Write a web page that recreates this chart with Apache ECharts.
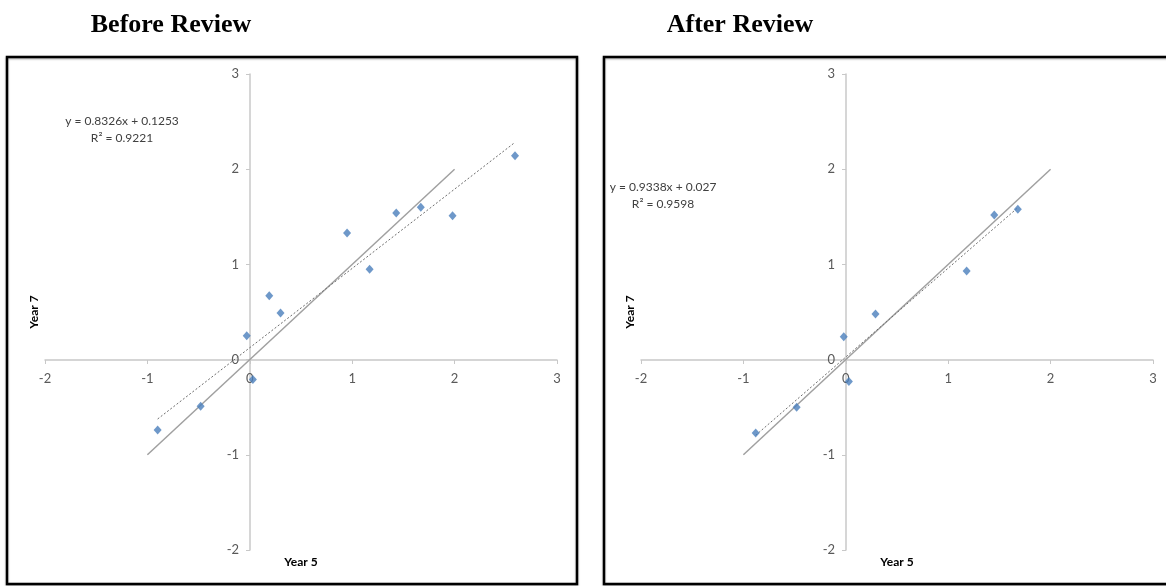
<!DOCTYPE html>
<html>
<head>
<meta charset="utf-8">
<script src="https://cdn.jsdelivr.net/npm/echarts@6/dist/echarts.min.js"></script>
<style>
html,body{margin:0;padding:0;background:#fff;}
#chart{width:1166px;height:586px;}
</style>
</head>
<body>
<div id="chart"></div>
<script>
// ---- data ----
const panelTitles = ["Before Review", "After Review"];
const xAxisName = "Year 5";
const yAxisName = "Year 7";
const axisMin = -2, axisMax = 3, axisStep = 1;

const beforePoints = [
  [-0.90, -0.74], [-0.48, -0.49], [-0.03, 0.25], [0.03, -0.21],
  [0.19, 0.67], [0.30, 0.49], [0.95, 1.33], [1.17, 0.95],
  [1.43, 1.54], [1.67, 1.60], [1.98, 1.51], [2.59, 2.14]
];
const afterPoints = [
  [-0.88, -0.77], [-0.48, -0.50], [-0.02, 0.24], [0.03, -0.23],
  [0.29, 0.48], [1.18, 0.93], [1.45, 1.52], [1.68, 1.58]
];
const identityLine = [[-1, -1], [2, 2]];
const beforeTrend = [[-0.90, -0.624], [2.59, 2.282]];
const afterTrend = [[-0.88, -0.795], [1.68, 1.596]];
const beforeEquation = ["y = 0.8326x + 0.1253", "R\u00B2 = 0.9221"];
const afterEquation = ["y = 0.9338x + 0.027", "R\u00B2 = 0.9598"];

// ---- chart ----
const chart = echarts.init(document.getElementById('chart'), null, {renderer: 'canvas'});
const labelFont = "Lato, 'Open Sans', sans-serif";
// grid geometry (pixels)
const G = {top: 74, height: 476, width: 512, lefts: [45, 641]};
// axes cross at value 0: offsets move the axes from the grid edges to the zero lines
const xOffset = -Math.round(G.height * (0 - axisMin) / (axisMax - axisMin)); // bottom -> y=0
const yOffset = -Math.round(G.width * (0 - axisMin) / (axisMax - axisMin));  // left -> x=0

function xAx(gi) {
  return {
    type: 'value', gridIndex: gi, min: axisMin, max: axisMax, interval: axisStep,
    position: 'bottom', offset: xOffset,
    axisLine: {onZero: false, lineStyle: {color: '#c8c8c8', width: 1.5}},
    axisTick: {show: true, length: 4, lineStyle: {color: '#c8c8c8'}},
    axisLabel: {color: '#595959', fontSize: 13, fontFamily: labelFont, margin: 12},
    splitLine: {show: false},
    name: xAxisName, nameLocation: 'middle', nameGap: 196,
    nameTextStyle: {color: '#000', fontWeight: 'bold', fontSize: 12, fontFamily: labelFont}
  };
}
function yAx(gi) {
  return {
    type: 'value', gridIndex: gi, min: axisMin, max: axisMax, interval: axisStep,
    position: 'left', offset: yOffset,
    axisLine: {onZero: false, lineStyle: {color: '#c8c8c8', width: 1.5}},
    axisTick: {show: true, length: 4, lineStyle: {color: '#c8c8c8'}},
    axisLabel: {color: '#595959', fontSize: 13, fontFamily: labelFont, margin: 11},
    splitLine: {show: false},
    name: yAxisName, nameLocation: 'middle', nameGap: 210, nameRotate: 90,
    nameTextStyle: {color: '#000', fontWeight: 'bold', fontSize: 12, fontFamily: labelFont}
  };
}
function seriesFor(gi, pts, trend) {
  return [
    {type: 'line', xAxisIndex: gi, yAxisIndex: gi, data: identityLine, symbol: 'none',
     lineStyle: {color: '#a0a0a0', width: 1.5}, silent: true, z: 2},
    {type: 'line', xAxisIndex: gi, yAxisIndex: gi, data: trend, symbol: 'none',
     lineStyle: {color: '#6e6e6e', width: 1, type: [2, 2]}, silent: true, z: 3},
    {type: 'scatter', xAxisIndex: gi, yAxisIndex: gi, data: pts, symbol: 'diamond',
     symbolSize: [8, 9], itemStyle: {color: '#4a7ebb'}, z: 4}
  ];
}

const titleStyle = {fontFamily: "'Liberation Serif', 'Times New Roman', serif", fontWeight: 'bold', fontSize: 26, color: '#000'};
const option = {
  animation: false,
  backgroundColor: '#fff',
  title: [
    {text: panelTitles[0], left: 166, top: 7, textAlign: 'center', textStyle: titleStyle},
    {text: panelTitles[1], left: 735, top: 7, textAlign: 'center', textStyle: titleStyle}
  ],
  grid: G.lefts.map(l => ({left: l, width: G.width, top: G.top, height: G.height, containLabel: false, outerBoundsMode: 'none'})),
  xAxis: [xAx(0), xAx(1)],
  yAxis: [yAx(0), yAx(1)],
  series: [].concat(seriesFor(0, beforePoints, beforeTrend), seriesFor(1, afterPoints, afterTrend)),
  graphic: [
    {type: 'rect', shape: {x: 7, y: 57, width: 570, height: 527},
     style: {fill: 'none', stroke: '#000', lineWidth: 2.5, shadowColor: 'rgba(0,0,0,0.35)', shadowBlur: 2, shadowOffsetY: 1}, z: 0},
    {type: 'rect', shape: {x: 604, y: 57, width: 600, height: 527},
     style: {fill: 'none', stroke: '#000', lineWidth: 2.5, shadowColor: 'rgba(0,0,0,0.35)', shadowBlur: 2, shadowOffsetY: 1}, z: 0},
    {type: 'text', x: 122, y: 113,
     style: {text: beforeEquation[0] + "\n" + beforeEquation[1], align: 'center', verticalAlign: 'top', fill: '#404040', fontSize: 12, lineHeight: 17, fontFamily: labelFont}},
    {type: 'text', x: 663, y: 179,
     style: {text: afterEquation[0] + "\n" + afterEquation[1], align: 'center', verticalAlign: 'top', fill: '#404040', fontSize: 12, lineHeight: 17, fontFamily: labelFont}}
  ]
};
chart.setOption(option);
</script>
</body>
</html>
